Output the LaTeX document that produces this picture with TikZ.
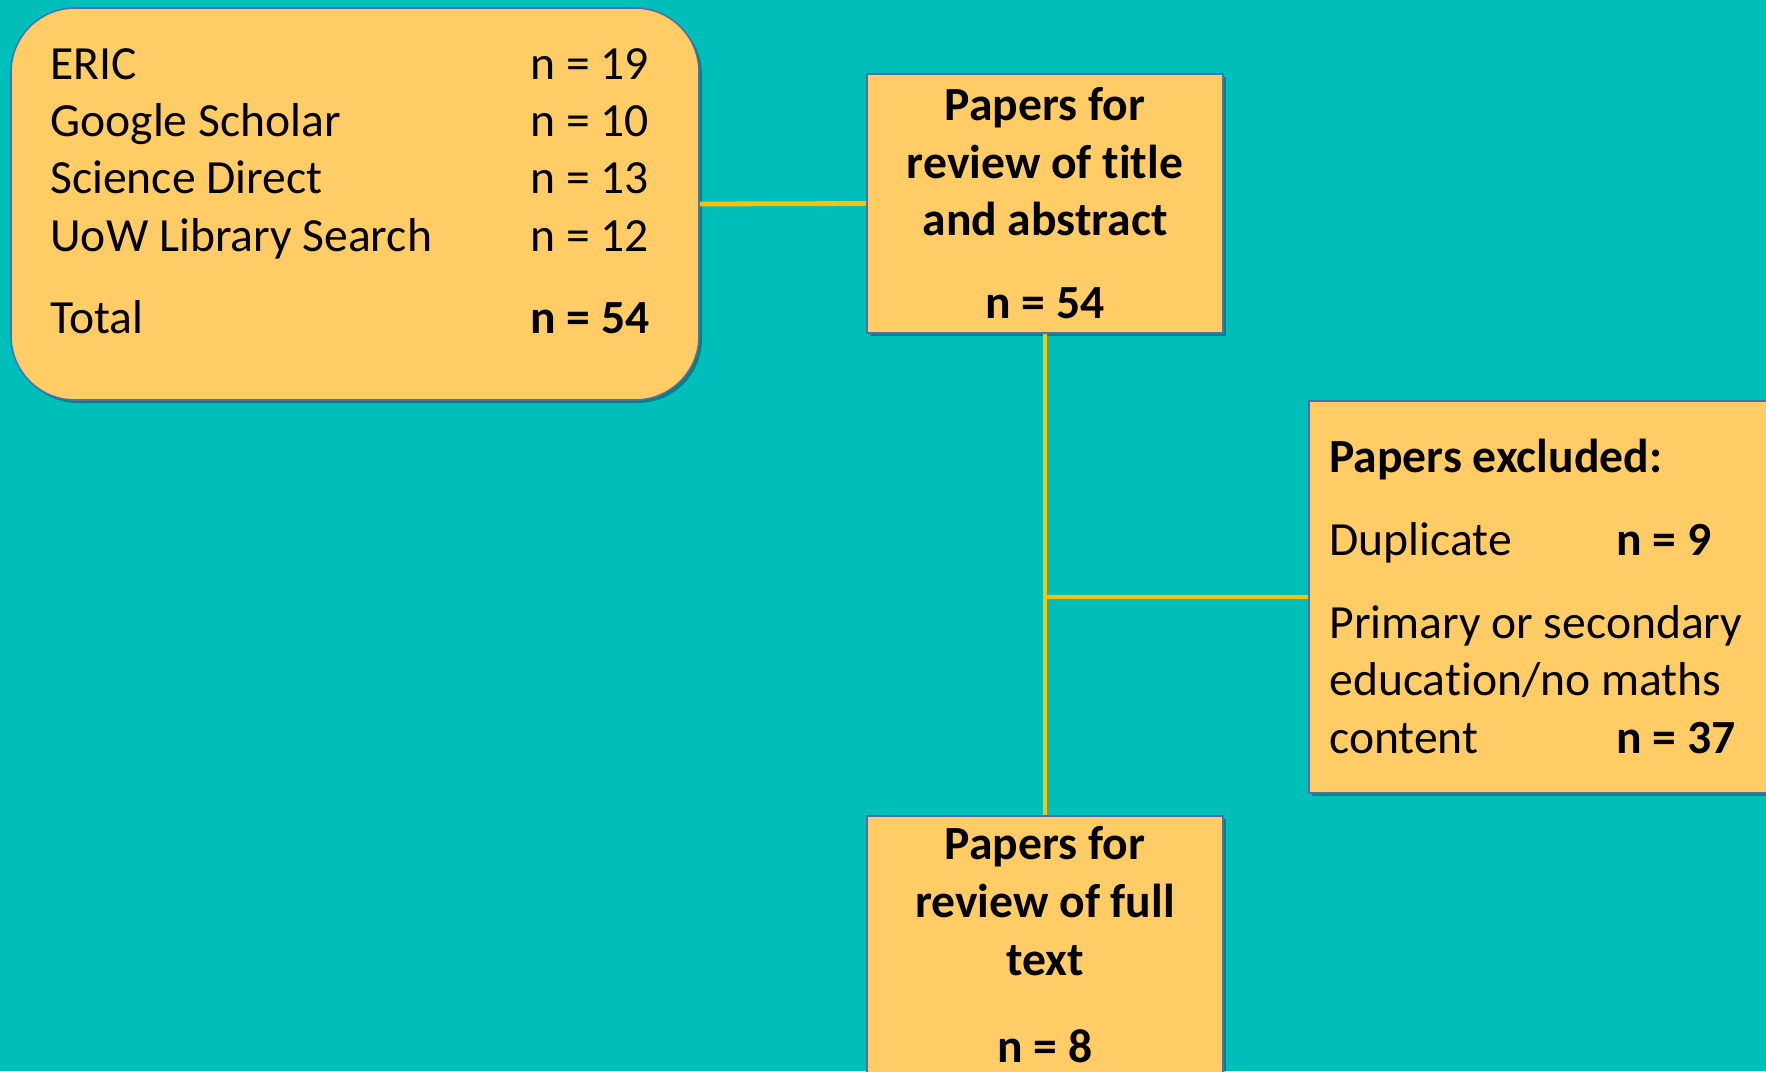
\documentclass[tikz,border=0pt]{standalone}
\usepackage{fontspec}
\setmainfont[RawFeature=-liga]{Carlito}
\usetikzlibrary{shadows}
\definecolor{bgteal}{RGB}{0,190,186}
\definecolor{boxfill}{RGB}{255,204,102}
\definecolor{boxedge}{RGB}{80,110,170}
\definecolor{connc}{RGB}{255,192,0}
\tikzset{
  box/.style={draw=boxedge, line width=0.8pt, fill=boxfill, inner sep=0pt,
    drop shadow={shadow xshift=1.5pt, shadow yshift=-1.5pt, opacity=0.3, fill=black}},
  conn/.style={draw=connc, line width=2.4pt},
  txt/.style={inner sep=0pt, anchor=base west, font=\fontsize{23.8}{28}\selectfont},
  ctxt/.style={inner sep=0pt, anchor=base, font=\fontsize{23.8}{28}\selectfont\bfseries},
}
\begin{document}
\begin{tikzpicture}[x=0.5pt, y=-0.5pt]
\useasboundingbox (0,0) rectangle (1766,1071);
\clip (0,0) rectangle (1766,1071);
\fill[bgteal] (0,0) rectangle (1766,1071);

% boxes
\node[box, rounded corners=32pt, minimum width=344pt, minimum height=196pt] (b1) at (355,204) {};
\node[box, minimum width=178pt, minimum height=129.5pt] (b2) at (1045,203.5) {};
\node[box, minimum width=235.5pt, minimum height=196pt] (b3) at (1544.5,597) {};
\node[box, minimum width=178pt, minimum height=137pt] (b4) at (1045,953) {};

% connectors
\coordinate (j) at (b2.south |- b3.west);
\draw[conn] (b1.east) -- (b2.west);
\draw[conn] (b2.south) -- (b4.north);
\draw[conn] (j) -- (b3.west);

% box 1 text
\node[txt] (s1) at (50,79) {ERIC};
\node[txt] (s2) at (50,136) {Google Scholar};
\node[txt] (s3) at (50,193) {Science Direct};
\node[txt] (s4) at (50,251) {UoW Library Search};
\node[txt] (s5) at (50,333) {Total};
\node[txt] (n1) at (530,79) {n = 19};
\node[txt] (n2) at (530,136) {n = 10};
\node[txt] (n3) at (530,193) {n = 13};
\node[txt] (n4) at (530,251) {n = 12};
\node[txt, font=\fontsize{23.8}{28}\selectfont\bfseries] (n5) at (530,333) {n = 54};

% box 2 text
\node[ctxt] (t1) at (1045,120) {Papers for};
\node[ctxt] (t2) at (1045,178) {review of title};
\node[ctxt] (t3) at (1045,235) {and abstract};
\node[ctxt] (t4) at (1045,318) {n = 54};

% box 3 text
\node[txt, font=\fontsize{23.8}{28}\selectfont\bfseries] (e1) at (1329,472) {Papers excluded:};
\node[txt] (e2) at (1329,555) {Duplicate};
\node[txt, font=\fontsize{23.8}{28}\selectfont\bfseries] (e2n) at (1616,555) {n = 9};
\node[txt] (e3) at (1329,638) {Primary or secondary};
\node[txt] (e4) at (1329,695) {education/no maths};
\node[txt] (e5) at (1329,753) {content};
\node[txt, font=\fontsize{23.8}{28}\selectfont\bfseries] (e5n) at (1616,753) {n = 37};

% box 4 text
\node[ctxt] (f1) at (1045,859) {Papers for};
\node[ctxt] (f2) at (1045,917) {review of full};
\node[ctxt] (f3) at (1045,975) {text};
\node[ctxt] (f4) at (1045,1062) {n = 8};
\end{tikzpicture}
\end{document}
